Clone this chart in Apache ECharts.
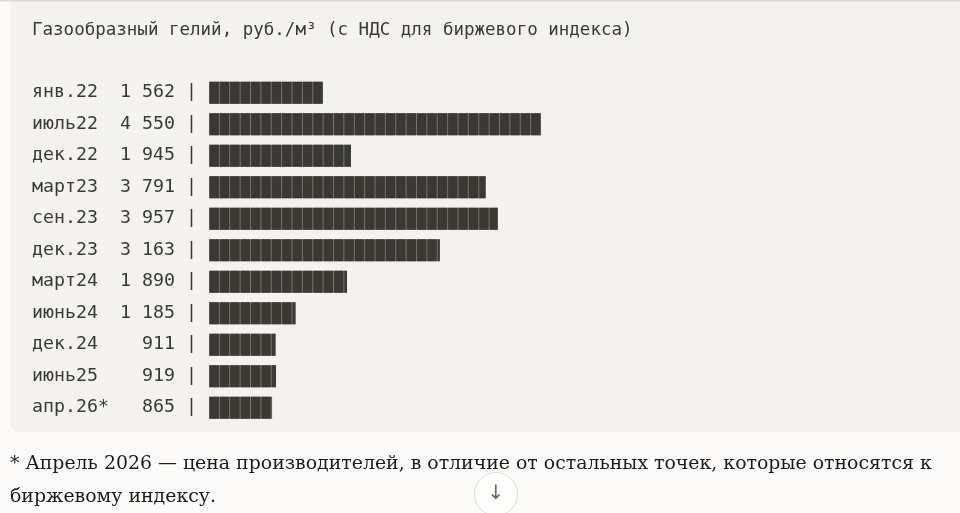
<!DOCTYPE html>
<html>
<head>
<meta charset="utf-8">
<title>Газообразный гелий</title>
<script src="https://cdn.jsdelivr.net/npm/echarts@6/dist/echarts.min.js"></script>
<style>
  html, body { margin: 0; padding: 0; background: #fbfaf8; }
  #chart { width: 960px; height: 513px; }
</style>
</head>
<body>
<div id="chart"></div>
<script>
// данные с картинки
const periods = ['янв.22', 'июль22', 'дек.22', 'март23', 'сен.23', 'дек.23',
  'март24', 'июнь24', 'дек.24', 'июнь25', 'апр.26*'];
const prices = [1562, 4550, 1945, 3791, 3957, 3163, 1890, 1185, 911, 919, 865];

const titleText = 'Газообразный гелий, руб./м³ (с НДС для биржевого индекса)';
const noteLines = [
  '* Апрель 2026 — цена производителей, в отличие от остальных точек, которые относятся к',
  'биржевому индексу.'
];

const mono = '"DejaVu Sans Mono", "Liberation Mono", monospace';
const serif = '"DejaVu Serif", serif';
const ink = '#3a3936';

function fmt(v) {
  return String(v).replace(/\B(?=(\d{3})+(?!\d))/g, ' ');
}

// подобрать кегль сноски, чтобы первая строка была ~922px
const ctx = document.createElement('canvas').getContext('2d');
ctx.font = '20px ' + serif;
const noteSize = Math.min(21, 20 * 922 / ctx.measureText(noteLines[0]).width);

const chart = echarts.init(document.getElementById('chart'));
chart.setOption({
  backgroundColor: '#fbfaf8',
  animation: false,
  graphic: [
    // серый блок кода
    { type: 'rect', z: -10, shape: { x: 10, y: -20, width: 980, height: 452, r: 10 },
      style: { fill: '#f3f2f0' } },
    { type: 'rect', z: -9, shape: { x: 0, y: 0, width: 960, height: 1.5 },
      style: { fill: '#dcdad6' } },
    { type: 'text', left: 32, top: 21,
      style: { text: titleText, font: '17.5px ' + mono, fill: ink } },
    { type: 'text', left: 10, top: 448,
      style: { text: noteLines.join('\n'), font: noteSize.toFixed(2) + 'px ' + serif,
        lineHeight: 33, fill: '#1c1c1c' } },
    { type: 'circle', shape: { cx: 496, cy: 494, r: 21.5 },
      style: { fill: '#fdfdfc', stroke: '#dddbd8', lineWidth: 1 } },
    { type: 'text', x: 496, y: 494,
      style: { text: '↓', font: '20px "DejaVu Sans", sans-serif', fill: '#6a6a6a',
        align: 'center', verticalAlign: 'middle' } }
  ],
  grid: { left: 209, top: 77, width: 332, height: 346.5 },
  xAxis: {
    type: 'value', min: 0, max: 'dataMax', show: false
  },
  yAxis: {
    type: 'category',
    data: periods,
    inverse: true,
    axisLine: { show: false },
    axisTick: { show: false },
    axisLabel: {
      align: 'left',
      margin: 177,
      fontFamily: mono,
      fontSize: 18.27,
      color: ink,
      padding: [2, 0, 0, 0],
      formatter: (name, i) => name.padEnd(8) + fmt(prices[i]).padStart(5) + ' |'
    }
  },
  series: [
    {
      type: 'bar',
      data: prices,
      barWidth: 22,
      itemStyle: { color: '#77756f' },
      silent: true
    },
    {
      type: 'pictorialBar',
      data: prices,
      symbol: 'rect',
      symbolSize: [9.4, 22],
      symbolRepeat: true,
      symbolMargin: '0.5!',
      symbolClip: true,
      symbolPosition: 'start',
      itemStyle: { color: '#3a3934' },
      z: 3,
      silent: true
    }
  ]
});
</script>
</body>
</html>
